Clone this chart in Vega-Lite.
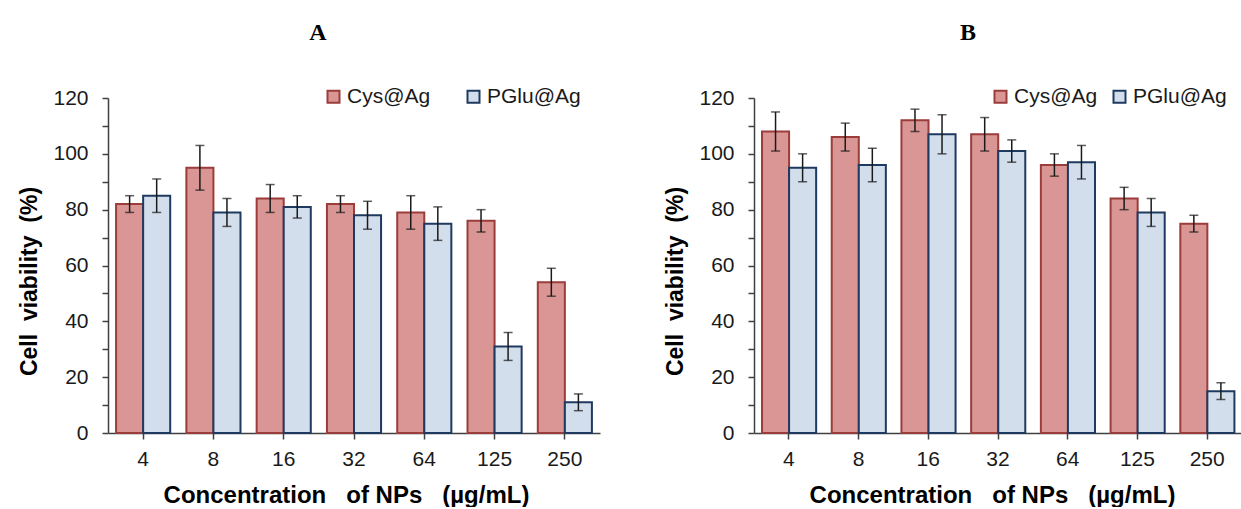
{
  "$schema": "https://vega.github.io/schema/vega-lite/v6.json",
  "padding": {"left": 18, "top": 21, "right": 0, "bottom": 0},
  "background": "white",
  "spacing": 64,
  "datasets": {
    "A": [
      {"conc": "4", "group": "Cys@Ag", "mean": 82, "lo": 79, "hi": 85},
      {"conc": "4", "group": "PGlu@Ag", "mean": 85, "lo": 79, "hi": 91},
      {"conc": "8", "group": "Cys@Ag", "mean": 95, "lo": 87, "hi": 103},
      {"conc": "8", "group": "PGlu@Ag", "mean": 79, "lo": 74, "hi": 84},
      {"conc": "16", "group": "Cys@Ag", "mean": 84, "lo": 79, "hi": 89},
      {"conc": "16", "group": "PGlu@Ag", "mean": 81, "lo": 77, "hi": 85},
      {"conc": "32", "group": "Cys@Ag", "mean": 82, "lo": 79, "hi": 85},
      {"conc": "32", "group": "PGlu@Ag", "mean": 78, "lo": 73, "hi": 83},
      {"conc": "64", "group": "Cys@Ag", "mean": 79, "lo": 73, "hi": 85},
      {"conc": "64", "group": "PGlu@Ag", "mean": 75, "lo": 69, "hi": 81},
      {"conc": "125", "group": "Cys@Ag", "mean": 76, "lo": 72, "hi": 80},
      {"conc": "125", "group": "PGlu@Ag", "mean": 31, "lo": 26, "hi": 36},
      {"conc": "250", "group": "Cys@Ag", "mean": 54, "lo": 49, "hi": 59},
      {"conc": "250", "group": "PGlu@Ag", "mean": 11, "lo": 8, "hi": 14}
    ],
    "B": [
      {"conc": "4", "group": "Cys@Ag", "mean": 108, "lo": 101, "hi": 115},
      {"conc": "4", "group": "PGlu@Ag", "mean": 95, "lo": 90, "hi": 100},
      {"conc": "8", "group": "Cys@Ag", "mean": 106, "lo": 101, "hi": 111},
      {"conc": "8", "group": "PGlu@Ag", "mean": 96, "lo": 90, "hi": 102},
      {"conc": "16", "group": "Cys@Ag", "mean": 112, "lo": 108, "hi": 116},
      {"conc": "16", "group": "PGlu@Ag", "mean": 107, "lo": 100, "hi": 114},
      {"conc": "32", "group": "Cys@Ag", "mean": 107, "lo": 101, "hi": 113},
      {"conc": "32", "group": "PGlu@Ag", "mean": 101, "lo": 97, "hi": 105},
      {"conc": "64", "group": "Cys@Ag", "mean": 96, "lo": 92, "hi": 100},
      {"conc": "64", "group": "PGlu@Ag", "mean": 97, "lo": 91, "hi": 103},
      {"conc": "125", "group": "Cys@Ag", "mean": 84, "lo": 80, "hi": 88},
      {"conc": "125", "group": "PGlu@Ag", "mean": 79, "lo": 74, "hi": 84},
      {"conc": "250", "group": "Cys@Ag", "mean": 75, "lo": 72, "hi": 78},
      {"conc": "250", "group": "PGlu@Ag", "mean": 15, "lo": 12, "hi": 18}
    ]
  },
  "hconcat": [
    {
      "width": 492,
      "height": 335,
      "title": {"text": "A", "dx": -36},
      "data": {"name": "A"},
      "encoding": {
        "x": {
          "field": "conc", "type": "nominal",
          "sort": ["4", "8", "16", "32", "64", "125", "250"],
          "scale": {"paddingInner": 0.23, "paddingOuter": 0.115},
          "axis": {"title": "Concentration\u00a0\u00a0 of NPs\u00a0\u00a0 (µg/mL)", "labelAngle": 0}
        },
        "xOffset": {"field": "group", "type": "nominal", "sort": ["Cys@Ag", "PGlu@Ag"]}
      },
      "layer": [
        {
          "mark": {"type": "bar", "strokeWidth": 2},
          "encoding": {
            "y": {"field": "mean", "type": "quantitative", "title": "Cell\u00a0 viability\u00a0 (%)",
                  "scale": {"domain": [0, 120], "nice": false}},
            "fill": {"field": "group", "type": "nominal",
                     "scale": {"domain": ["Cys@Ag", "PGlu@Ag"], "range": ["#d99694", "#d3deed"]},
                     "legend": {"legendX": 215, "legendY": -12, "columnPadding": 32}},
            "stroke": {"field": "group", "type": "nominal",
                       "scale": {"domain": ["Cys@Ag", "PGlu@Ag"], "range": ["#9b3d3a", "#1f3a60"]},
                       "legend": {"legendX": 215, "legendY": -12, "columnPadding": 32}}
          }
        },
        {
          "mark": {"type": "rule", "color": "#1a1a1a", "strokeWidth": 1.5},
          "encoding": {
            "y": {"field": "lo", "type": "quantitative", "title": "Cell\u00a0 viability\u00a0 (%)"},
            "y2": {"field": "hi"}
          }
        },
        {
          "mark": {"type": "tick", "color": "#1a1a1a", "thickness": 1.5, "size": 9},
          "encoding": {"y": {"field": "lo", "type": "quantitative", "title": "Cell\u00a0 viability\u00a0 (%)"}}
        },
        {
          "mark": {"type": "tick", "color": "#1a1a1a", "thickness": 1.5, "size": 9},
          "encoding": {"y": {"field": "hi", "type": "quantitative", "title": "Cell\u00a0 viability\u00a0 (%)"}}
        }
      ]
    },
    {
      "width": 488,
      "height": 335,
      "title": {"text": "B", "dx": -30},
      "data": {"name": "B"},
      "encoding": {
        "x": {
          "field": "conc", "type": "nominal",
          "sort": ["4", "8", "16", "32", "64", "125", "250"],
          "scale": {"paddingInner": 0.23, "paddingOuter": 0.115},
          "axis": {"title": "Concentration\u00a0\u00a0 of NPs\u00a0\u00a0 (µg/mL)", "labelAngle": 0}
        },
        "xOffset": {"field": "group", "type": "nominal", "sort": ["Cys@Ag", "PGlu@Ag"]}
      },
      "layer": [
        {
          "mark": {"type": "bar", "strokeWidth": 2},
          "encoding": {
            "y": {"field": "mean", "type": "quantitative", "title": "Cell\u00a0 viability\u00a0 (%)",
                  "scale": {"domain": [0, 120], "nice": false}},
            "fill": {"field": "group", "type": "nominal",
                     "scale": {"domain": ["Cys@Ag", "PGlu@Ag"], "range": ["#d99694", "#d3deed"]},
                     "legend": {"legendX": 236, "legendY": -12, "columnPadding": 11}},
            "stroke": {"field": "group", "type": "nominal",
                       "scale": {"domain": ["Cys@Ag", "PGlu@Ag"], "range": ["#9b3d3a", "#1f3a60"]},
                       "legend": {"legendX": 236, "legendY": -12, "columnPadding": 11}}
          }
        },
        {
          "mark": {"type": "rule", "color": "#1a1a1a", "strokeWidth": 1.5},
          "encoding": {
            "y": {"field": "lo", "type": "quantitative", "title": "Cell\u00a0 viability\u00a0 (%)"},
            "y2": {"field": "hi"}
          }
        },
        {
          "mark": {"type": "tick", "color": "#1a1a1a", "thickness": 1.5, "size": 9},
          "encoding": {"y": {"field": "lo", "type": "quantitative", "title": "Cell\u00a0 viability\u00a0 (%)"}}
        },
        {
          "mark": {"type": "tick", "color": "#1a1a1a", "thickness": 1.5, "size": 9},
          "encoding": {"y": {"field": "hi", "type": "quantitative", "title": "Cell\u00a0 viability\u00a0 (%)"}}
        }
      ]
    }
  ],
  "resolve": {"scale": {"fill": "independent", "stroke": "independent"}, "legend": {"fill": "independent", "stroke": "independent"}},
  "config": {
    "view": {"stroke": null},
    "font": "Liberation Sans",
    "title": {"font": "Liberation Serif", "fontSize": 24, "fontWeight": "bold", "color": "#000000", "anchor": "middle", "offset": 41},
    "axis": {
      "grid": false,
      "domainColor": "#404040", "domainWidth": 1.5,
      "tickColor": "#404040", "tickWidth": 1.5, "tickSize": 6,
      "labelFont": "Liberation Sans", "labelFontSize": 21, "labelColor": "#1a1a1a",
      "titleFont": "Liberation Sans", "titleFontSize": 23, "titleFontWeight": "bold", "titleColor": "#000000"
    },
    "axisX": {"labelPadding": 9, "titlePadding": 14, "titleFontSize": 24, "titleX": 238},
    "axisY": {
      "values": [0, 10, 20, 30, 40, 50, 60, 70, 80, 90, 100, 110, 120],
      "labelExpr": "datum.value % 20 == 0 ? datum.label : ''",
      "labelPadding": 14, "titlePadding": 11, "titleY": 183
    },
    "legend": {
      "orient": "none", "direction": "horizontal", "title": null,
      "symbolType": "square", "symbolSize": 144, "symbolStrokeWidth": 2, "symbolOpacity": 1,
      "labelFont": "Liberation Sans", "labelFontSize": 21, "labelColor": "#1a1a1a", "labelOffset": 3
    }
  }
}
